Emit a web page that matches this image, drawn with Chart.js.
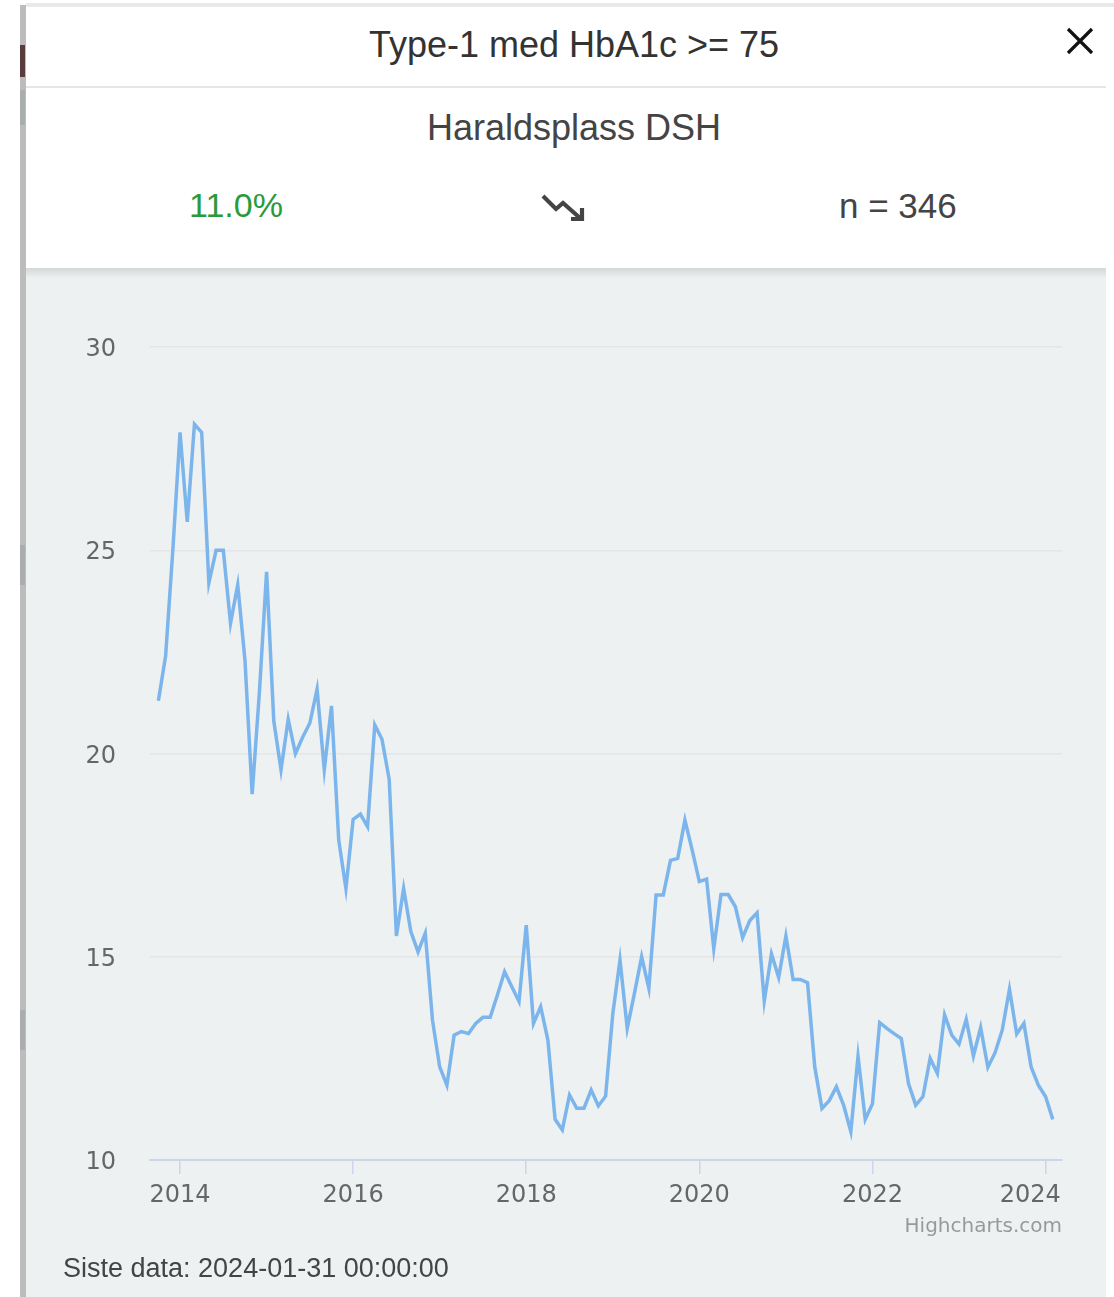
<!DOCTYPE html>
<html>
<head>
<meta charset="utf-8">
<script src="https://cdn.jsdelivr.net/npm/chart.js@4"></script>
<style>
  html, body { margin: 0; padding: 0; background: #fff; }
  body { width: 1114px; height: 1297px; position: relative; overflow: hidden; font-family: "Liberation Sans", Arial, sans-serif; }
  .topline { position: absolute; left: 26px; right: 0; top: 3px; height: 4px; background: #e9e9e9; }
  .strip { position: absolute; left: 20px; top: 5px; width: 6px; bottom: 0; background: #bcbcbc; }
  .strip-mark { position: absolute; left: 20px; width: 5px; }
  .modal-head { position: absolute; left: 26px; right: 8px; top: 7px; height: 80px; background: #fff; }
  .sep { position: absolute; left: 26px; right: 8px; top: 86px; height: 2px; background: #e6e6e6; }
  .info { position: absolute; left: 26px; right: 8px; top: 88px; height: 180px; background: #fff; }
  .panel { position: absolute; left: 26px; right: 8px; top: 268px; bottom: 0; background: #edf1f2; }
  .shadow { position: absolute; left: 26px; right: 8px; top: 268px; height: 10px; background: linear-gradient(#d4d7d8, rgba(237,241,242,0)); }
  .txt { position: absolute; white-space: nowrap; }
  #chartBox { position: absolute; left: 26px; top: 275px; width: 1080px; height: 1022px; }
</style>
</head>
<body>
<div class="topline"></div>
<div class="strip"></div>
<div class="strip-mark" style="top:45px;height:32px;background:#5a3c3c;"></div>
<div class="strip-mark" style="top:90px;height:35px;background:#a9adad;"></div>
<div class="strip-mark" style="top:545px;height:40px;background:#a9adad;"></div>
<div class="strip-mark" style="top:1010px;height:40px;background:#a9adad;"></div>

<div class="modal-head"></div>
<div class="sep"></div>
<div class="info"></div>
<div class="panel"></div>
<div class="shadow"></div>

<div class="txt" style="left:0;width:1148px;text-align:center;top:24px;font-size:36px;color:#333;">Type-1 med HbA1c &gt;= 75</div>
<svg class="txt" style="left:1062px;top:24px;" width="36" height="34">
  <path d="M6 5 L30 29 M30 5 L6 29" stroke="#111" stroke-width="3.2" fill="none"/>
</svg>
<div class="txt" style="left:0;width:1148px;text-align:center;top:107px;font-size:36px;color:#444;">Haraldsplass DSH</div>
<div class="txt" id="pct" style="left:189px;top:186px;font-size:34px;color:#2a9a3c;">11.0%</div>
<svg class="txt" style="left:538px;top:190px;" width="52" height="36">
  <path d="M5 6 L18 19 L25 13 L42 28" stroke="#444" stroke-width="4.2" fill="none" stroke-linejoin="miter"/>
  <path d="M33 29 L44 29 L44 18" stroke="#444" stroke-width="4.2" fill="none"/>
</svg>
<div class="txt" id="nval" style="left:839px;top:186px;font-size:35px;color:#444;">n = 346</div>

<div id="chartBox"><canvas id="hba1cChart" width="1080" height="1022"></canvas></div>

<div class="txt" style="right:52px;top:1213px;font-family:'DejaVu Sans',sans-serif;font-size:20px;color:#999;">Highcharts.com</div>
<div class="txt" style="left:63px;top:1253px;font-size:27px;color:#444;">Siste data: 2024-01-31 00:00:00</div>

<script>
// Data: andel (%) Type-1 med HbA1c >= 75, månedlig, sept 2013 - jan 2024
const startYear = 2013;
const startMonth = 9;

const values2013 = [21.3, 22.4, 25.0, 27.9];
const values2014 = [25.7, 28.1, 27.9, 24.2, 25.0, 25.0, 23.2, 24.15, 22.3, 19.0, 21.5, 24.47];
const values2015 = [20.8, 19.6, 20.84, 20.0, 20.4, 20.75, 21.58, 19.6, 21.17, 17.87, 16.68, 18.38];
const values2016 = [18.51, 18.2, 20.7, 20.35, 19.36, 15.51, 16.68, 15.62, 15.12, 15.58, 13.44, 12.29];
const values2017 = [11.84, 13.07, 13.16, 13.11, 13.36, 13.51, 13.51, 14.06, 14.63, 14.26, 13.9, 15.78];
const values2018 = [13.36, 13.77, 12.95, 11.0, 10.74, 11.6, 11.27, 11.27, 11.72, 11.33, 11.57, 13.6];
const values2019 = [14.92, 13.24, 14.1, 15.0, 14.22, 16.52, 16.52, 17.37, 17.42, 18.36, 17.63, 16.85];
const values2020 = [16.91, 15.2, 16.53, 16.53, 16.23, 15.47, 15.89, 16.08, 13.91, 15.07, 14.49, 15.51];
const values2021 = [14.44, 14.44, 14.36, 12.29, 11.27, 11.46, 11.8, 11.35, 10.7, 12.55, 11.0, 11.38];
const values2022 = [13.38, 13.24, 13.11, 12.99, 11.88, 11.35, 11.56, 12.5, 12.13, 13.57, 13.07, 12.85];
const values2023 = [13.46, 12.56, 13.26, 12.28, 12.64, 13.2, 14.2, 13.1, 13.36, 12.29, 11.84, 11.56];
const values2024 = [11.0];

const xTickLabels = [2014, 2016, 2018, 2020, 2022, 2024];
const yTickLabels = [10, 15, 20, 25, 30];

const allValues = [].concat(values2013, values2014, values2015, values2016, values2017,
    values2018, values2019, values2020, values2021, values2022, values2023, values2024);

// Chaque point est placé à la fin du mois (année décimale)
const points = allValues.map((v, i) => {
    const m = startMonth + i; // mois compté depuis janvier 2013
    return { x: startYear + m / 12, y: v };
});

const ctx = document.getElementById('hba1cChart').getContext('2d');

new Chart(ctx, {
    type: 'line',
    data: {
        datasets: [{
            data: points,
            borderColor: '#7cb5ec',
            borderWidth: 3.5,
            pointRadius: 0,
            tension: 0,
            fill: false
        }]
    },
    options: {
        responsive: false,
        maintainAspectRatio: false,
        animation: false,
        events: [],
        layout: { padding: { top: 72, right: 44, left: 0, bottom: 77 } },
        plugins: {
            legend: { display: false },
            tooltip: { enabled: false }
        },
        scales: {
            x: {
                type: 'linear',
                min: 2013.653,
                max: 2024.19,
                afterBuildTicks: scale => { scale.ticks = xTickLabels.map(v => ({ value: v })); },
                afterFit: scale => { scale.height = 60; },
                grid: {
                    drawOnChartArea: false,
                    drawTicks: true,
                    tickLength: 14,
                    color: '#ccd6eb',
                    lineWidth: 1.5
                },
                border: { display: true, color: '#ccd6eb', width: 2 },
                ticks: {
                    padding: 7,
                    maxRotation: 0,
                    autoSkip: false,
                    color: '#666',
                    font: { family: 'DejaVu Sans', size: 24 },
                    // le dernier label est décalé vers la gauche, comme dans Highcharts
                    callback: v => v === xTickLabels[xTickLabels.length - 1] ? v + '    ' : String(v)
                }
            },
            y: {
                min: yTickLabels[0],
                max: yTickLabels[yTickLabels.length - 1],
                afterBuildTicks: scale => { scale.ticks = yTickLabels.map(v => ({ value: v })); },
                afterFit: scale => { scale.width = 124; },
                grid: {
                    drawTicks: false,
                    color: '#e3e5e6',
                    lineWidth: 1.5
                },
                border: { display: false },
                ticks: {
                    padding: 34,
                    labelOffset: 3,
                    color: '#666',
                    font: { family: 'DejaVu Sans', size: 24 },
                    callback: v => String(v)
                }
            }
        }
    }
});
</script>
</body>
</html>
